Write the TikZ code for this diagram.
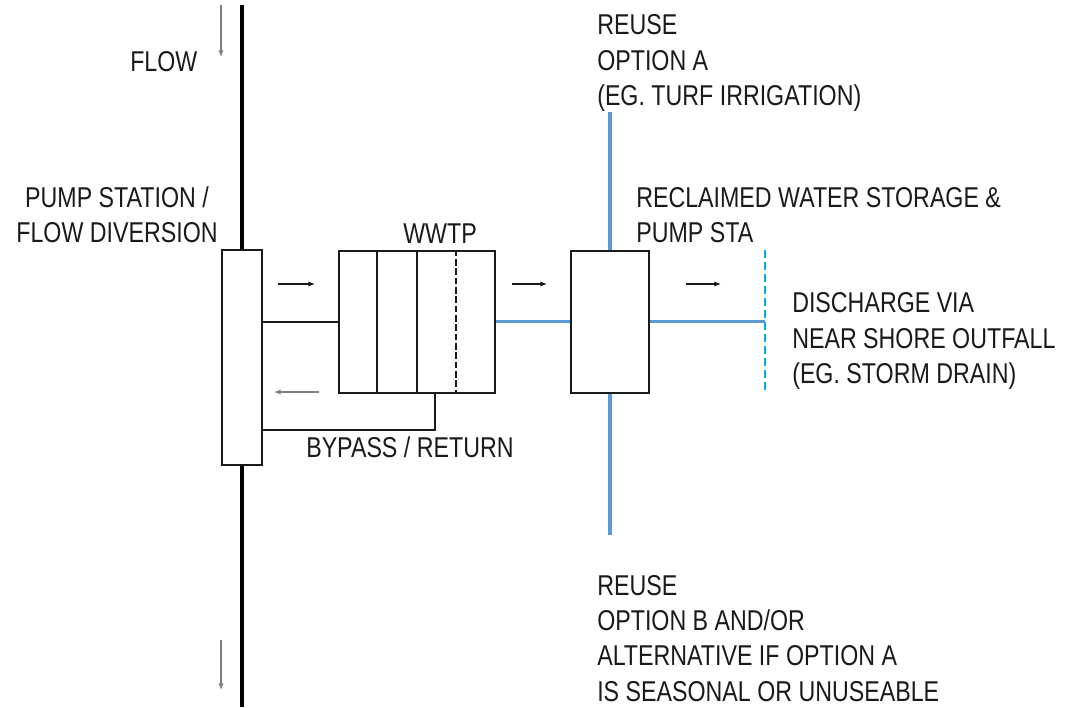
\documentclass[tikz,border=0pt]{standalone}
\usepackage{fontspec}
\setmainfont{Liberation Sans}[FakeStretch=0.81]
\usetikzlibrary{positioning,calc,arrows.meta}
\definecolor{cPipe}{HTML}{5B9BD5}
\definecolor{cOutfall}{HTML}{00B0F0}
\definecolor{cInk}{HTML}{1A1A1A}
\definecolor{cMute}{HTML}{7F7F7F}
\tikzset{
  txt/.style={font=\fontsize{21.5}{26.5}\selectfont, text=cInk, align=left,
    inner sep=0pt, anchor=base west},
  tank/.style={draw=cInk, line width=1.5pt, fill=white, inner sep=0pt},
  main/.style={draw=black, line width=2.4pt},
  link/.style={draw=cInk, line width=1.5pt},
  stagedash/.style={dash pattern=on 5pt off 2pt},
  pipe/.style={draw=cPipe, line width=2.4pt},
  flow/.style={-{Latex[length=5pt,width=4pt]}, line width=0.9pt, color=#1},
  flow/.default=cInk,
}

\begin{document}
\begin{tikzpicture}[x=0.75pt, y=-0.75pt]
  \useasboundingbox (0,0) rectangle (1078,707);

  % ---------- tanks ----------
  \node[tank, minimum width=30pt, minimum height=161.25pt] (pump) at (242,357.5) {};
  \node[tank, minimum width=117pt, minimum height=106.5pt] (wwtp) at (417,321.5) {};
  \node[tank, minimum width=58.5pt, minimum height=106.5pt] (store) at (610,321.5) {};

  % ---------- treatment stages ----------
  \foreach \f/\sty in {0.244/solid, 0.5/solid, 0.744/stagedash}
    \draw[link, \sty] ($(wwtp.north west)!\f!(wwtp.north east)$) -- ($(wwtp.south west)!\f!(wwtp.south east)$);

  % ---------- main sewer ----------
  \coordinate (top) at (242,5);
  \coordinate (bot) at (242,707);
  \draw[main] (top) -- (pump.north);
  \draw[main] (pump.south) -- (bot);

  % ---------- links ----------
  \draw[link] (pump.east |- wwtp.west) -- (wwtp.west);
  \coordinate (byp) at ($(wwtp.south west)!0.615!(wwtp.south east)$);
  \coordinate (bypL) at ($(pump.east)+(0,72.5)$);
  \draw[link] (byp) |- (bypL);
  \draw[pipe] (wwtp.east) -- (store.west);
  \coordinate (reuseA) at (610,112);
  \coordinate (reuseB) at (610,535);
  \draw[pipe] (store.north) -- (reuseA);
  \draw[pipe] (store.south) -- (reuseB);
  \coordinate (outT) at (765,250);
  \coordinate (outB) at (765,393);
  \draw[cOutfall, line width=2pt, dash pattern=on 6pt off 3pt] (outT) -- (outB);
  \draw[pipe] (store.east) -- (store.east -| outT);

  % ---------- flow arrows ----------
  \draw[flow=cMute] (221,5) -- (221,57);
  \draw[flow=cMute] (221,640) -- (221,690);
  \draw[flow] (278,284) -- (315,284);
  \draw[flow=cMute] (319,392) -- (274,392);
  \draw[flow] (512,284) -- (547,284);
  \draw[flow] (686,284) -- (721,284);

  % ---------- labels (anchored at last baseline) ----------
  \node[txt] (lflow) at (130,71) {FLOW};
  \node[txt, align=center, anchor=base] (lpump) at (117,242.5) {PUMP STATION /\\FLOW DIVERSION};
  \node[txt, anchor=base] (lwwtp) at (440,243) {WWTP};
  \node[txt] (lbyp) at (306,457) {BYPASS / RETURN};
  \node[txt] (lreuseA) at (597,105.5) {REUSE\\OPTION A\\(EG. TURF IRRIGATION)};
  \node[txt] (lstore) at (636,242.5) {RECLAIMED WATER STORAGE \&\\PUMP STA};
  \node[txt] (lout) at (792,383.5) {DISCHARGE VIA\\NEAR SHORE OUTFALL\\(EG. STORM DRAIN)};
  \node[txt] (lreuseB) at (597,701) {REUSE\\OPTION B AND/OR\\ALTERNATIVE IF OPTION A\\IS SEASONAL OR UNUSEABLE};

\end{tikzpicture}
\end{document}
